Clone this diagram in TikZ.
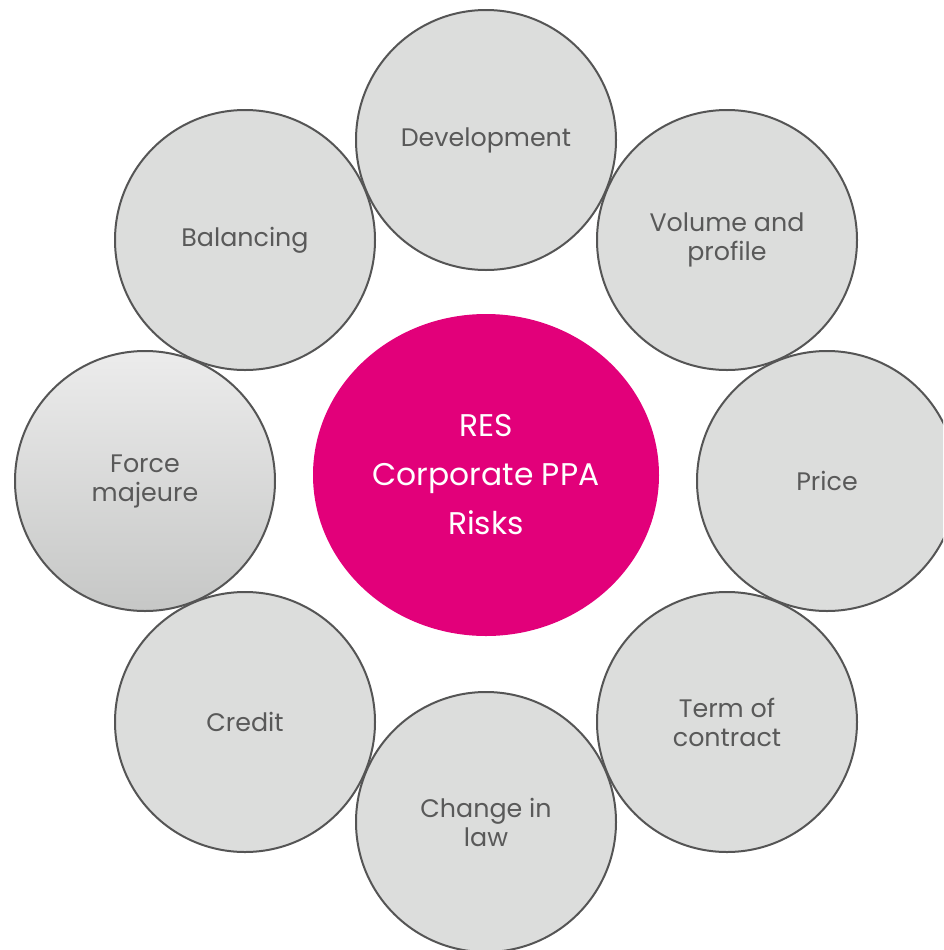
\documentclass[tikz,border=0pt]{standalone}
\usepackage{fontspec}
\setmainfont{Poppins}
\usetikzlibrary{shapes.geometric}

\definecolor{riskgray}{RGB}{220,221,220}
\definecolor{rimgray}{RGB}{85,85,85}
\definecolor{textgray}{RGB}{89,89,89}
\definecolor{ppapink}{RGB}{226,0,122}

\tikzset{every picture/.style={line width=0.75pt}}
\tikzset{
  risk/.style={circle, draw=rimgray, line width=1.5pt, fill=riskgray, minimum size=195pt, inner sep=0pt, align=center, text=textgray, font=\fontsize{19}{21.75}\selectfont},
  hub/.style={ellipse, fill=ppapink, minimum width=259.5pt, minimum height=241.5pt, inner sep=0pt, align=center, text=white, font=\fontsize{23.5}{36.75}\selectfont}
}

\begin{document}
\begin{tikzpicture}[x=0.75pt,y=0.75pt,yscale=-1,xscale=1]
	\useasboundingbox (0,0) rectangle (943,950);
	\clip (0,0) rectangle (943,950);

	\node [risk] (dev) at (486,140) {Development};
	\node [risk] (vol) at (727,240) {Volume and\\profile};
	\node [risk] (price) at (827,481) {Price};
	\node [risk] (term) at (727,722) {Term of\\contract};
	\node [risk] (law) at (486,822) {Change in\\law};
	\node [risk] (credit) at (245,722) {Credit};
	\node [risk, top color={rgb,255:red,236;green,236;blue,236}, bottom color={rgb,255:red,198;green,199;blue,198}] (force) at (145,481) {Force\\majeure};
	\node [risk] (bal) at (245,240) {Balancing};

	\node [hub] (ppa) at (486,475) {RES\\Corporate PPA\\Risks};
\end{tikzpicture}
\end{document}
